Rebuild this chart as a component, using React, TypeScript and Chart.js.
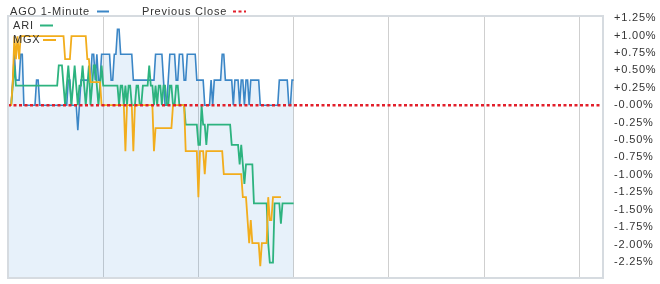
import React, { useEffect, useRef } from "react";
import { Chart, registerables } from "chart.js";

Chart.register(...registerables);

// minutes since 09:30 for the whole session shown (09:30 .. 15:45)
const X_MAX = 375;
const GRID_MINUTES = [60, 120, 180, 240, 300, 360];
const Y_MIN = -2.48;
const Y_MAX = 1.28;
const Y_TICKS = [1.25, 1.0, 0.75, 0.5, 0.25, 0, -0.25, -0.5, -0.75, -1.0, -1.25, -1.5, -1.75, -2.0, -2.25];

const SERIES_NAMES = ["AGO 1-Minute", "Previous Close", "ARI", "MGX"];

// % change vs previous close, one value per minute from 09:30
const AGO = [
  0, 0, 0, 0.36, 0.73, 0.36, 0.36, 0.36, 0.73, 0.73,
  0, 0, 0, 0, 0, 0, 0, 0, 0.36, 0.36,
  0, 0, 0, 0, 0, 0, 0, 0, 0, 0,
  0, 0, 0, 0, 0, 0, 0, 0, 0.36, 0.36,
  0, 0, 0, 0, -0.36, 0, 0.36, 0.36, 0.36, 0.36,
  0.36, 0.36, 0.36, 0.73, 0.73, 0.36, 0.73, 0.36, 0.36, 0.73,
  0.73, 0.73, 0.73, 0.73, 0.73, 0.36, 0.36, 0.73, 0.73, 1.09,
  1.09, 0.73, 0.73, 0.73, 0.73, 0.73, 0.73, 0.73, 0.73, 0.36,
  0.36, 0.36, 0.36, 0.36, 0.36, 0.36, 0.36, 0.36, 0.36, 0.36,
  0.36, 0.36, 0.36, 0.73, 0.73, 0.73, 0.73, 0.73, 0.36, 0,
  0, 0.36, 0.73, 0.73, 0.73, 0.73, 0.36, 0.36, 0.73, 0.73,
  0.73, 0.36, 0.36, 0.73, 0.73, 0.73, 0.73, 0.73, 0.73, 0.36,
  0.36, 0.36, 0.36, 0.36, 0, 0, 0, 0, 0.36, 0,
  0.36, 0.36, 0.36, 0.36, 0.36, 0.73, 0.73, 0.36, 0.36, 0.36,
  0.36, 0.36, 0, 0.36, 0.36, 0.36, 0, 0.36, 0.36, 0,
  0.36, 0.36, 0, 0.36, 0.36, 0.36, 0.36, 0.36, 0.36, 0,
  0, 0, 0, 0, 0, 0, 0, 0, 0, 0,
  0, 0.36, 0.36, 0.36, 0.36, 0.36, 0.36, 0, 0, 0.36,
  0.36,
];

const ARI = [
  0, 0, 0, 0.28, 0.57, 0.28, 0.28, 0.28, 0.28, 0.28,
  0.28, 0.28, 0.28, 0.28, 0.28, 0.28, 0.28, 0.28, 0.28, 0.28,
  0.28, 0.28, 0.28, 0.28, 0.28, 0.28, 0.28, 0.28, 0.28, 0.28,
  0.28, 0.28, 0.57, 0.57, 0.57, 0.28, 0, 0.28, 0.57, 0.28,
  0, 0.28, 0.57, 0.28, 0, 0.28, 0.28, 0.57, 0.28, 0,
  0.28, 0.57, 0, 0.28, 0.57, 0.57, 0.28, 0, 0.28, 0.57,
  0.28, 0.28, 0.28, 0.28, 0.28, 0.28, 0.28, 0.28, 0.28, 0.28,
  0, 0.28, 0.28, 0, 0.28, 0, 0.28, 0.28, 0, 0,
  0, 0.28, 0.28, 0, 0, 0.28, 0.28, 0.28, 0.28, 0.57,
  0.28, 0.28, 0, 0.28, 0, 0.28, 0.28, 0, 0.28, 0.28,
  0, 0, 0.28, 0.28, 0, 0, 0.28, 0.28, 0, 0,
  0, 0, -0.28, -0.28, -0.28, -0.28, -0.28, -0.28, -0.28, -0.28,
  -0.57, -0.57, 0, -0.28, -0.28, -0.57, -0.28, -0.28, -0.28, -0.28,
  -0.28, -0.28, -0.28, -0.28, -0.28, -0.28, -0.28, -0.28, -0.28, -0.28,
  -0.28, -0.57, -0.57, -0.57, -0.57, -0.57, -0.85, -0.57, -0.85, -1.13,
  -0.85, -0.85, -0.85, -0.85, -0.85, -1.41, -1.41, -1.41, -1.41, -1.41,
  -1.41, -1.41, -1.41, -1.41, -1.98, -2.26, -2.26, -2.26, -1.41, -1.41,
  -1.41, -1.41, -1.7, -1.41, -1.41, -1.41, -1.41, -1.41, -1.41, -1.41,
  -1.41,
];

const MGX = [
  0, 0, 0, 0.33, 0.99, 0.66, 0.99, 0.66, 0.99, 0.99,
  0.99, 0.99, 0.99, 0.99, 0.99, 0.99, 0.99, 0.99, 0.99, 0.99,
  0.99, 0.99, 0.99, 0.99, 0.99, 0.99, 0.99, 0.99, 0.99, 0.99,
  0.99, 0.99, 0.99, 0.99, 0.99, 0.99, 0.66, 0.66, 0.66, 0.66,
  0.99, 0.99, 0.99, 0.99, 0.99, 0.99, 0.99, 0.99, 0.99, 0.99,
  0.66, 0.66, 0.33, 0.33, 0.33, 0.33, 0.33, 0.33, 0.33, 0,
  0, 0, 0, 0, 0, 0, 0, 0, 0, 0,
  0, 0, 0, 0, -0.66, 0, 0, 0, 0, -0.66,
  0, 0, 0, 0, 0, 0, 0, 0, 0, 0,
  0, 0, -0.66, -0.33, -0.33, -0.33, -0.33, -0.33, -0.33, -0.33,
  -0.33, -0.33, -0.33, -0.33, 0, 0, 0, 0, 0, 0,
  0, 0, -0.66, -0.66, -0.66, -0.66, -0.66, -0.66, -0.66, -0.66,
  -1.32, -0.66, -0.66, -0.66, -0.99, -0.66, -0.66, -0.66, -0.66, -0.66,
  -0.66, -0.66, -0.66, -0.66, -0.66, -0.66, -0.99, -0.99, -0.99, -0.99,
  -0.99, -0.99, -0.99, -0.99, -0.99, -0.99, -0.99, -0.99, -1.32, -1.32,
  -1.32, -1.65, -1.98, -1.65, -1.98, -1.98, -1.98, -1.98, -1.98, -2.31,
  -1.98, -1.98, -1.98, -1.98, -1.32, -1.65, -1.65, -1.32, -1.32, -1.32,
  -1.32, -1.32, -1.32,
];

const PREV_CLOSE = [0, 0];

const COLORS = {
  ago: "#3b86c6",
  agoFill: "rgba(40,125,205,0.11)",
  ari: "#2db37f",
  mgx: "#f2ad1c",
  prev: "#e21f2b",
  grid: "#cfcfcf",
  border: "#d6dbe0",
  text: "#333333",
};

const FONT = '"Liberation Sans", Arial, sans-serif';
const SPACING = "0.8px";

const toPoints = (arr: number[]) => arr.map((v, i) => ({ x: i, y: v }));

const fmt = (v: number) =>
  (v > 0 ? "+" : "-") + Math.abs(v).toFixed(2) + "%";

const spacingPlugin = {
  id: "spacing",
  beforeDraw(chart: any) {
    (chart.ctx as any).letterSpacing = SPACING;
  },
};

const framePlugin = {
  id: "frame",
  afterDraw(chart: any) {
    const { ctx, chartArea } = chart;
    ctx.save();
    ctx.strokeStyle = COLORS.border;
    ctx.lineWidth = 2;
    ctx.strokeRect(chartArea.left, chartArea.top, chartArea.right - chartArea.left, chartArea.bottom - chartArea.top);
    ctx.restore();

    ctx.save();
    (ctx as any).letterSpacing = SPACING;
    ctx.font = `11px ${FONT}`;
    ctx.fillStyle = COLORS.text;
    ctx.textBaseline = "middle";
    ctx.textAlign = "left";
    const seg = (x1: number, x2: number, y: number, color: string, dash: number[]) => {
      ctx.save();
      ctx.strokeStyle = color;
      ctx.lineWidth = 2;
      ctx.setLineDash(dash);
      ctx.beginPath();
      ctx.moveTo(x1, y);
      ctx.lineTo(x2, y);
      ctx.stroke();
      ctx.restore();
    };
    ctx.fillText(SERIES_NAMES[0], 10, 11.5);
    seg(97, 109, 11.5, COLORS.ago, []);
    ctx.fillText(SERIES_NAMES[1], 142, 11.5);
    seg(233, 246, 11.5, COLORS.prev, [3, 2.5]);
    ctx.fillText(SERIES_NAMES[2], 13, 26);
    seg(40, 53, 25.5, COLORS.ari, []);
    ctx.fillText(SERIES_NAMES[3], 13, 40);
    seg(43, 56, 40, COLORS.mgx, []);
    ctx.restore();
  },
};

export default function App() {
  const ref = useRef<HTMLCanvasElement | null>(null);

  useEffect(() => {
    document.body.style.margin = "0";
    const canvas = ref.current;
    if (!canvas) return;
    const chart = new Chart(canvas, {
      type: "line",
      data: {
        datasets: [
          {
            label: SERIES_NAMES[1],
            data: [
              { x: 0, y: PREV_CLOSE[0] },
              { x: X_MAX, y: PREV_CLOSE[1] },
            ],
            borderColor: COLORS.prev,
            borderWidth: 2.5,
            borderDash: [3, 2.5],
            pointRadius: 0,
            fill: false,
            order: 0,
          },
          {
            label: SERIES_NAMES[3],
            data: toPoints(MGX),
            borderColor: COLORS.mgx,
            borderWidth: 1.8,
            pointRadius: 0,
            fill: false,
            order: 1,
          },
          {
            label: SERIES_NAMES[2],
            data: toPoints(ARI),
            borderColor: COLORS.ari,
            borderWidth: 1.8,
            pointRadius: 0,
            fill: false,
            order: 2,
          },
          {
            label: SERIES_NAMES[0],
            data: toPoints(AGO),
            borderColor: COLORS.ago,
            backgroundColor: COLORS.agoFill,
            borderWidth: 1.6,
            pointRadius: 0,
            fill: "start",
            order: 3,
          },
        ],
      },
      options: {
        responsive: false,
        animation: false,
        events: [],
        layout: { padding: { left: 8, top: 16, right: 0, bottom: 6 } },
        plugins: { legend: { display: false }, tooltip: { enabled: false } },
        elements: { line: { tension: 0 }, point: { radius: 0 } },
        scales: {
          x: {
            type: "linear",
            min: 0,
            max: X_MAX,
            ticks: { display: false },
            grid: { color: COLORS.grid, lineWidth: 1, drawTicks: false },
            border: { display: false },
            afterBuildTicks: (s: any) => {
              s.ticks = GRID_MINUTES.map((v) => ({ value: v }));
            },
            afterFit: (s: any) => {
              s.height = 0;
              s.paddingLeft = 0;
              s.paddingRight = 0;
            },
          },
          y: {
            type: "linear",
            position: "right",
            min: Y_MIN,
            max: Y_MAX,
            grid: { display: false, drawTicks: false },
            border: { display: false },
            ticks: {
              padding: 11,
              color: COLORS.text,
              font: { family: FONT, size: 11 },
              callback: (v: any) => fmt(Number(v)),
            },
            afterBuildTicks: (s: any) => {
              s.ticks = Y_TICKS.map((v) => ({ value: v }));
            },
            afterFit: (s: any) => {
              s.width = 57;
              s.paddingTop = 0;
              s.paddingBottom = 0;
            },
          },
        },
      },
      plugins: [spacingPlugin, framePlugin],
    } as any);
    return () => chart.destroy();
  }, []);

  return (
    <div style={{ width: 660, height: 284 }}>
      <canvas ref={ref} width={660} height={284} style={{ display: "block" }} />
    </div>
  );
}
